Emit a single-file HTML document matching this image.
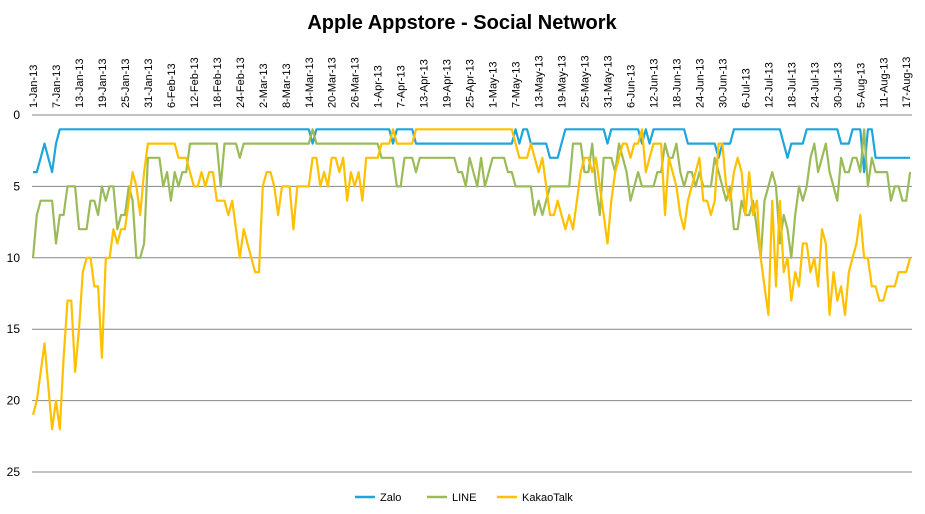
<!DOCTYPE html>
<html><head><meta charset="utf-8">
<style>
html,body{margin:0;padding:0;background:#fff;}
body{width:925px;height:509px;overflow:hidden;font-family:"Liberation Sans",Arial,sans-serif;}
</style></head>
<body>
<svg id="chart" width="925" height="509" xmlns="http://www.w3.org/2000/svg" font-family="Liberation Sans, Arial, sans-serif">
<text x="462" y="29" text-anchor="middle" font-size="20" font-weight="bold" fill="#000">Apple Appstore - Social Network</text>
<g id="grid"></g>
<g id="xaxis"></g>
<g id="yaxis"></g>
<g id="series"></g>
<g id="legend"></g>
</svg>
<script>
const startDate = Date.UTC(2013,0,1);
const labelStep = 6;
const yTicks = [0,5,10,15,20,25];
const seriesNames = ["Zalo","LINE","KakaoTalk"];
const seriesColors = ["#1ea6dc","#9bbb59","#ffc000"];
const zalo = [
4,4,3,2,3,4,2,1,1,1,
1,1,1,1,1,1,1,1,1,1, 1,1,1,1,1,1,1,1,1,1, 1,1,1,1,1,1,1,1,1,1,
1,1,1,1,1,1,1,1,1,1, 1,1,1,1,1,1,1,1,1,1, 1,1,1,1,1,1,1,1,1,1,
1,1,1,2,1,1,1,1,1,1,
1,1,1,1,1,1,1,1,1,1,
1,1,1,1,2,1,1,1,1,1,
2,2,2,2,2,2,2,2,2,2,
2,2,2,2,2,2,2,2,2,2,
2,2,2,2,2,2,1,2,1,1,
2,2,2,2,2,3,3,3,2,1,
1,1,1,1,1,1,1,1,1,1,
2,1,1,1,1,1,1,1,1,2,
1,2,1,1,1,1,1,1,1,1,
1,2,2,2,2,2,2,2,2,3,
2,2,2,1,1,1,1,1,1,1,
1,1,1,1,1,1,2,3,2,2,
2,2,1,1,1,1,1,1,1,1,
1,2,2,2,1,1,1,4,1,1,
3,3,3,3,3,3,3,3,3,3];
const line = [
10,7,6,6,6,6,9,7,7,5,
5,5,8,8,8,6,6,7,5,6,
5,5,8,7,7,5,6,10,10,9,
3,3,3,3,5,4,6,4,5,4,
4,2,2,2,2,2,2,2,2,5,
2,2,2,2,3,2,2,2,2,2,
2,2,2,2,2,2,2,2,2,2,
2,2,2,1,2,2,2,2,2,2,
2,2,2,2,2,2,2,2,2,2,
2,3,3,3,3,5,5,3,3,3,
4,3,3,3,3,3,3,3,3,3,
3,4,4,5,3,4,5,3,5,4,
3,3,3,3,4,4,5,5,5,5,
5,7,6,7,6,5,5,5,5,5,
5,2,2,2,4,4,2,5,7,3,
3,3,4,2,3,4,6,5,4,5,
5,5,5,4,4,2,3,3,2,4,
5,4,4,5,4,5,5,5,3,4,
5,6,5,8,8,6,7,7,6,8,
10,6,5,4,5,9,7,8,10,7,
5,6,5,3,2,4,3,2,4,5,
6,3,4,4,3,3,4,1,5,3,
4,4,4,4,6,5,5,6,6,4];
const kakao = [
21,20,18,16,19,22,20,22,17,13,
13,18,15,11,10,10,12,12,17,10,
10,8,9,8,8,6,4,5,7,4,
2,2,2,2,2,2,2,2,3,3,
3,4,5,5,4,5,4,4,6,6,
6,7,6,8,10,8,9,10,11,11,
5,4,4,5,7,5,5,5,8,5,
5,5,5,3,3,5,4,5,3,3,
4,3,6,4,5,4,6,3,3,3,
3,2,2,2,1,2,2,2,2,2,
1,1,1,1,1,1,1,1,1,1,
1,1,1,1,1,1,1,1,1,1,
1,1,1,1,1,1,2,3,3,3,
2,3,4,3,5,7,7,6,7,8,
7,8,6,4,3,3,4,3,5,7,
9,6,4,3,2,2,3,2,2,1,
4,3,2,2,2,7,3,4,5,7,
8,6,5,4,3,6,6,7,6,2,
2,5,6,4,3,4,7,4,7,6,
10,12,14,6,12,6,11,10,13,11,
12,9,9,11,10,12,8,9,14,11,
13,12,14,11,10,9,7,10,10,12,
12,13,13,12,12,12,11,11,11,10];
const seriesData = [zalo, line, kakao];

const NS = "http://www.w3.org/2000/svg";
const X0 = 33, DX = 3.83, Y0 = 115, DY = 14.28, XR = 912;
function xScale(i){ return X0 + i*DX; }
function yScale(v){ return Y0 + v*DY; }
function mk(tag, attrs, parent){
  const e = document.createElementNS(NS, tag);
  for (const k in attrs) e.setAttribute(k, attrs[k]);
  parent.appendChild(e); return e;
}
const months = ["Jan","Feb","Mar","Apr","May","Jun","Jul","Aug","Sep","Oct","Nov","Dec"];
const grid = document.getElementById("grid");
yTicks.forEach(t => {
  const l = mk("line", {x1:32, x2:XR, y1:yScale(t), y2:yScale(t), stroke:"#868686", "stroke-width":1}, grid);
  
  
  const tx = mk("text", {x:20, y:yScale(t)+4, "text-anchor":"end", "font-size":12, fill:"#000"}, document.getElementById("yaxis"));
  tx.textContent = t;
  
  
});
const xaxis = document.getElementById("xaxis");
const n = zalo.length;
for (let i = 0; i < n; i += labelStep) {
  const d = new Date(startDate + i*86400000);
  const lab = d.getUTCDate() + "-" + months[d.getUTCMonth()] + "-13";
  const x = xScale(i) + 4;
  const tx = mk("text", {x:x, y:108, "font-size":11, fill:"#000", "text-anchor":"start", transform:"rotate(-90 "+x+" 108)"}, xaxis);
  tx.textContent = lab;
  
  
}
const sg = document.getElementById("series");
seriesData.forEach((arr, s) => {
  const pts = arr.map((v,i) => xScale(i).toFixed(1)+","+yScale(v).toFixed(1)).join(" ");
  const pl = mk("polyline", {points:pts, fill:"none", stroke:seriesColors[s], "stroke-width":2.2, "stroke-linejoin":"round"}, sg);
  
  
});
const lg = document.getElementById("legend");
const legX = [355, 427, 497];
seriesNames.forEach((nm, s) => {
  const g = mk("g", {}, lg);
  
  
  mk("line", {x1:legX[s], x2:legX[s]+20, y1:497, y2:497, stroke:seriesColors[s], "stroke-width":2.5}, g);
  const t = mk("text", {x:legX[s]+25, y:501, "font-size":11, fill:"#000"}, g);
  t.textContent = nm;
});
</script>
</body></html>
